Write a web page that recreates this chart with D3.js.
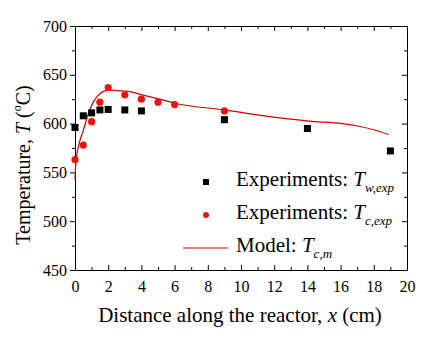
<!DOCTYPE html>
<meta charset="utf-8" />
<style>
    body { margin: 0; background: #fff; }
    text { font-family: "Liberation Serif", "Times New Roman", serif; fill: #000; }
</style>
<body></body>
<script src="https://d3js.org/d3.v7.min.js"></script>
<script>

    // wall temperature, experiments
    var twX = [0, 0.5, 1, 1.5, 2, 3, 4, 9, 14, 19];
    var twT = [596, 608, 611, 614, 614.5, 614, 613, 604, 595, 572];

    // core temperature, experiments
    var tcX = [0, 0.5, 1, 1.5, 2, 3, 4, 5, 6, 9];
    var tcT = [563, 578, 602, 622, 637, 629.5, 625, 622, 619.5, 613];

    // core temperature, model
    var modelX = [0, 0.05, 0.2, 0.5, 0.8, 1.1, 1.4, 1.8, 2.2, 2.8, 3.1, 4.1, 5.1, 6.1, 9.1, 11.1, 14.1, 16.1, 17.1, 18.1, 18.9];
    var modelT = [542, 560, 576, 593, 610, 622, 629, 633.5, 634.3, 633.5, 633.3, 629.2, 625, 620.6, 613.8, 608.6, 602.5, 600, 597.3, 593.2, 588.8];

    var xTicks = d3.range(0, 21, 2);
    var yTicks = d3.range(450, 701, 50);

    var svgWidth = 433, svgHeight = 340;
    var margin = {top: 26, right: 26, bottom: 70, left: 75};
    var width = svgWidth - margin.left - margin.right;
    var height = svgHeight - margin.top - margin.bottom;

    var svg = d3.select("body").append("svg")
        .attr("width", svgWidth)
        .attr("height", svgHeight);

    var g = svg.append("g")
        .attr("transform", "translate(" + margin.left + "," + margin.top + ")");

    var x = d3.scaleLinear().domain([0, 20]).range([0, width]);
    var y = d3.scaleLinear().domain([450, 700]).range([height, 0]);

    // axes: bottom/top/right ticks point inward, left ticks outward
    function styleAxis(sel) {
        sel.select(".domain").attr("stroke", "#000").attr("stroke-width", 1);
        sel.selectAll(".tick line").attr("stroke", "#000");
        sel.selectAll("text").style("font-size", "16px")
            .style("font-family", "'Liberation Serif', serif").attr("fill", "#000");
    }

    var gxMinor = g.append("g").attr("transform", "translate(0," + height + ")")
        .call(d3.axisBottom(x).tickValues(d3.range(1, 20, 2)).tickSize(-3).tickFormat(""));
    var gx = g.append("g").attr("transform", "translate(0," + height + ")")
        .call(d3.axisBottom(x).tickValues(xTicks).tickSize(-5).tickPadding(11));
    styleAxis(gxMinor); styleAxis(gx);
    gx.selectAll("text").attr("dy", "0.71em");

    var gtMinor = g.append("g")
        .call(d3.axisTop(x).tickValues(d3.range(1, 20, 2)).tickSize(-3).tickFormat(""));
    var gt = g.append("g")
        .call(d3.axisTop(x).tickValues(xTicks).tickSize(-5).tickFormat(""));
    styleAxis(gtMinor); styleAxis(gt);

    var gyMinor = g.append("g")
        .call(d3.axisLeft(y).tickValues(d3.range(475, 700, 50)).tickSize(3).tickFormat(""));
    var gy = g.append("g")
        .call(d3.axisLeft(y).tickValues(yTicks).tickSize(5).tickPadding(3));
    styleAxis(gyMinor); styleAxis(gy);

    var grMinor = g.append("g").attr("transform", "translate(" + width + ",0)")
        .call(d3.axisRight(y).tickValues(d3.range(475, 700, 50)).tickSize(-3).tickFormat(""));
    var gr = g.append("g").attr("transform", "translate(" + width + ",0)")
        .call(d3.axisRight(y).tickValues(yTicks).tickSize(-5).tickFormat(""));
    styleAxis(grMinor); styleAxis(gr);

    // model line
    var line = d3.line()
        .x(function (d) { return x(d[0]); })
        .y(function (d) { return y(d[1]); })
        .curve(d3.curveMonotoneX);

    g.append("path")
        .datum(d3.zip(modelX, modelT))
        .attr("d", line)
        .attr("fill", "none")
        .attr("stroke", "#cc0000")
        .attr("stroke-width", 1.2);

    // wall points
    var sq = 7;
    g.selectAll(".tw")
        .data(d3.zip(twX, twT))
        .enter().append("rect")
        .attr("class", "tw")
        .attr("x", function (d) { return x(d[0]) - sq / 2; })
        .attr("y", function (d) { return y(d[1]) - sq / 2; })
        .attr("width", sq).attr("height", sq)
        .attr("fill", "#000");

    // core points
    g.selectAll(".tc")
        .data(d3.zip(tcX, tcT))
        .enter().append("circle")
        .attr("class", "tc")
        .attr("cx", function (d) { return x(d[0]); })
        .attr("cy", function (d) { return y(d[1]); })
        .attr("r", 3.6)
        .attr("fill", "#ee1111");

    // legend
    var legend = svg.append("g");
    var rows = [
        {type: "sq", label: "Experiments: ", sub: "w,exp"},
        {type: "dot", label: "Experiments: ", sub: "c,exp"},
        {type: "line", label: "Model: ", sub: "c,m"}
    ];
    rows.forEach(function (r, i) {
        var cy = 182 + i * 33;
        if (r.type === "sq") {
            legend.append("rect").attr("x", 203).attr("y", cy - 3)
                .attr("width", 6).attr("height", 6).attr("fill", "#000");
        } else if (r.type === "dot") {
            legend.append("circle").attr("cx", 206).attr("cy", cy).attr("r", 3)
                .attr("fill", "#ee1111");
        } else {
            legend.append("line").attr("x1", 183).attr("x2", 228)
                .attr("y1", cy).attr("y2", cy)
                .attr("stroke", "#cc0000").attr("stroke-width", 1.2);
        }
        var t = legend.append("text").attr("x", 236).attr("y", cy + 4)
            .style("font-size", "21px");
        t.append("tspan").text(r.label);
        t.append("tspan").style("font-style", "italic").text("T");
        t.append("tspan").style("font-style", "italic").style("font-size", "13px")
            .attr("dy", 6).text(r.sub);
    });

    // axis titles
    svg.append("text")
        .attr("x", 240).attr("y", 322)
        .attr("text-anchor", "middle")
        .style("font-size", "21px")
        .call(function (t) {
            t.append("tspan").text("Distance along the reactor, ");
            t.append("tspan").style("font-style", "italic").text("x");
            t.append("tspan").text(" (cm)");
        });

    svg.append("text")
        .attr("transform", "translate(30,165) rotate(-90)")
        .attr("text-anchor", "middle")
        .style("font-size", "20px")
        .call(function (t) {
            t.append("tspan").text("Temperature, ");
            t.append("tspan").style("font-style", "italic").text("T");
            t.append("tspan").text(" (");
            t.append("tspan").style("font-size", "12px").attr("dy", -9).text("o");
            t.append("tspan").attr("dy", 9).text("C)");
        });

</script>
